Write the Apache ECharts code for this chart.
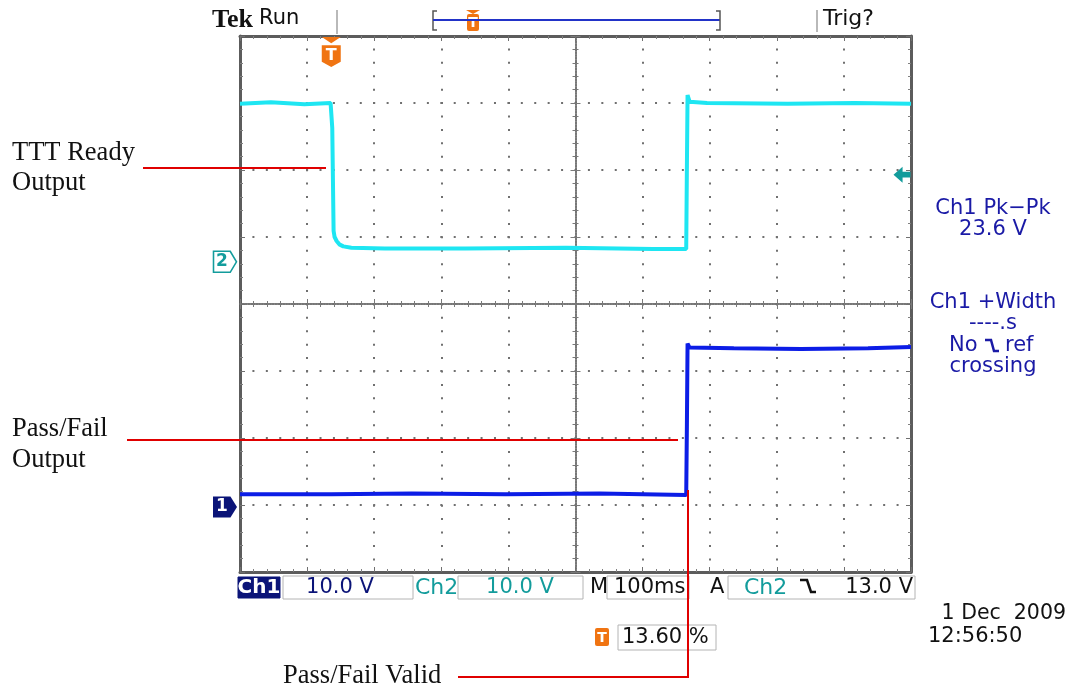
<!DOCTYPE html>
<html>
<head>
<meta charset="utf-8">
<title>TTT Ready / Pass-Fail timing</title>
<script src="https://cdn.jsdelivr.net/npm/echarts@6/dist/echarts.min.js"></script>
<style>
  html, body { margin: 0; padding: 0; background: #ffffff; }
  #scope { width: 1070px; height: 690px; }
</style>
</head>
<body>
<div id="scope"></div>
<script>
// Time in ms relative to the trigger point (trigger sits at 13.6 % of the record, 100 ms/div)
const timeWindow = { min: -136, max: 864, perDiv: 100 };

// Ch2 - TTT Ready output (volts)
const ch2Time  = [-136, -90, -40, -1, 1.5, 3.5, 5, 8, 12, 18, 30, 80, 200, 350, 480, 529, 530, 531, 534, 560, 680, 780, 864];
const ch2Volts = [23.6, 23.8, 23.5, 23.7, 20.0, 4.6, 3.7, 3.1, 2.6, 2.3, 2.1, 2.0, 2.0, 2.1, 1.9, 1.9, 14.0, 24.9, 23.9, 23.7, 23.6, 23.7, 23.6];

// Ch1 - Pass/Fail output (volts)
const ch1Time  = [-136, 0, 120, 260, 400, 529, 530, 531, 534, 600, 700, 800, 864];
const ch1Volts = [1.9, 1.9, 2.0, 1.9, 2.0, 1.8, 12.0, 24.4, 23.8, 23.7, 23.6, 23.7, 23.9];

// Vertical scale (10 V/div, 8 divisions) and ground reference of each channel
const voltsPerDiv = 10;
const ch2Range = { min: -46.3, max: 33.7 };
const ch1Range = { min: -9.7, max: 70.3 };
const triggerLevel = 13.0;

// Readouts
const statusCh1 = '10.0 V';
const statusCh2 = '10.0 V';
const statusTime = '100ms';
const statusTrig = '13.0 V';
const triggerPos = '13.60 %';
const measureLines = ['Ch1 Pk\u2212Pk', '23.6 V', 'Ch1 +Width', '----.s', 'crossing'];
const dateLines = ['1 Dec  2009', '12:56:50'];

const CYAN = '#1ee6f2';
const BLUE = '#0c1de6';
const TEAL = '#139c9c';
const NAVY = '#0b1478';
const MEAS = '#1a1aa6';
const ORANGE = '#f07412';
const RED = '#e00000';
const MONO = '21px "DejaVu Sans"';
const SERIF = '26.5px "Liberation Serif"';

const zip = (t, v) => t.map((x, i) => [x, v[i]]);

const dotted = { color: '#707070', width: 2, type: [2, 11.42], dashOffset: 1 };
const frame = { color: '#5c5c5c', width: 3 };

const frameAxis = (extra) => Object.assign({
  type: 'value',
  axisLine: { show: true, onZero: false, lineStyle: frame },
  axisTick: { show: true, inside: true, length: 5, lineStyle: { color: '#707070', width: 1 } },
  minorTick: { show: true, splitNumber: 5, length: 3, lineStyle: { color: '#808080', width: 1 } },
  axisLabel: { show: false },
  splitLine: { show: false }
}, extra);

const tickStyle = { color: '#7a7a7a', width: 1 };
const crossAxis = (inside, extra) => Object.assign({
  type: 'value',
  interval: 1,
  axisLine: { show: true, onZero: true, onZeroAxisIndex: 2, lineStyle: { color: '#6e6e6e', width: 1.5, type: [1.5, 1.2] } },
  axisTick: { show: true, inside, length: 5, lineStyle: tickStyle },
  minorTick: { show: true, splitNumber: 5, length: 3, lineStyle: tickStyle },
  axisLabel: { show: false },
  splitLine: { show: false }
}, extra);

const txt = (text, x, y, font, fill, align) => ({
  type: 'text', x, y, z: 20,
  style: { text, font, fill, align: align || 'left', verticalAlign: 'middle' }
});
const box = (x, y, w, h, fill, stroke) => ({
  type: 'rect', z: 15, shape: { x, y, width: w, height: h },
  style: { fill: fill || '#fff', stroke: stroke || '#b4b4b4', lineWidth: 1 }
});
const line = (pts, color, w) => ({
  type: 'polyline', z: 30, shape: { points: pts },
  style: { stroke: color, lineWidth: w, fill: null }
});
const tMark = (x, y, w, h) => ({
  type: 'group', x, y, z: 25,
  children: [
    { type: 'rect', shape: { x: 0, y: 0, width: w, height: h, r: 2 }, style: { fill: ORANGE } },
    { type: 'text', style: { text: 'T', x: w / 2, y: h / 2 + 1, font: 'bold ' + Math.round(h * 0.8) + 'px "DejaVu Sans"', fill: '#fff', align: 'center', verticalAlign: 'middle' } }
  ]
});

const chart = echarts.init(document.getElementById('scope'), null, { renderer: 'canvas' });

chart.setOption({
  animation: false,
  backgroundColor: '#ffffff',
  grid: { left: 240, top: 36, width: 671, height: 536, show: false },
  xAxis: [
    frameAxis({ min: timeWindow.min, max: timeWindow.max, interval: timeWindow.perDiv, position: 'bottom',
      splitLine: { show: true, lineStyle: dotted } }),
    frameAxis({ min: timeWindow.min, max: timeWindow.max, interval: timeWindow.perDiv, position: 'top' }),
    crossAxis(true, { min: -5, max: 5, position: 'bottom' }),
    crossAxis(false, { min: -5, max: 5, position: 'bottom' })
  ],
  yAxis: [
    frameAxis({ min: ch2Range.min, max: ch2Range.max, interval: voltsPerDiv, position: 'left',
      splitLine: { show: true, lineStyle: dotted } }),
    frameAxis({ min: ch1Range.min, max: ch1Range.max, interval: voltsPerDiv, position: 'right' }),
    crossAxis(true, { min: -4, max: 4, position: 'left' }),
    crossAxis(false, { min: -4, max: 4, position: 'left' })
  ],
  series: [
    {
      name: 'Ch2', type: 'line', xAxisIndex: 0, yAxisIndex: 0,
      data: zip(ch2Time, ch2Volts), showSymbol: false, z: 5,
      lineStyle: { color: CYAN, width: 4 },
      markPoint: {
        silent: true,
        data: [
          { // ground reference of Ch2
            coord: [timeWindow.min, 0],
            symbol: 'path://M0,0 L16,0 L22,10 L16,20 L0,20 Z', symbolSize: [23, 21], symbolOffset: [-15, 0],
            itemStyle: { color: '#ffffff', borderColor: TEAL, borderWidth: 1.5 },
            label: { show: true, formatter: '2', position: 'inside', offset: [-3, 0], color: TEAL, fontWeight: 'bold', fontSize: 17, fontFamily: 'DejaVu Sans' }
          },
          { // trigger level arrow
            coord: [timeWindow.max, triggerLevel],
            symbol: 'path://M0,7 L8,0 L8,4.5 L15,4.5 L15,9.5 L8,9.5 L8,14 Z', symbolSize: [17, 16], symbolOffset: [-9, 0],
            itemStyle: { color: TEAL }, label: { show: false }
          },
          { // trigger position marker
            coord: [0, ch2Range.max],
            symbol: 'path://M1,0 L17,0 L9,6 Z M1,8 L17,8 L17,24 L9,29 L1,24 Z', symbolSize: [19, 30], symbolOffset: [0, 16],
            itemStyle: { color: ORANGE },
            label: { show: true, formatter: 'T', position: 'inside', offset: [0, 4], color: '#fff', fontWeight: 'bold', fontSize: 16, fontFamily: 'DejaVu Sans' }
          }
        ]
      }
    },
    {
      name: 'Ch1', type: 'line', xAxisIndex: 0, yAxisIndex: 1,
      data: zip(ch1Time, ch1Volts), showSymbol: false, z: 6,
      lineStyle: { color: BLUE, width: 4 },
      markPoint: {
        silent: true,
        data: [
          { // ground reference of Ch1
            coord: [timeWindow.min, 0],
            symbol: 'path://M0,0 L16,0 L22,10 L16,20 L0,20 Z', symbolSize: [24, 21], symbolOffset: [-15, 0],
            itemStyle: { color: NAVY },
            label: { show: true, formatter: '1', position: 'inside', offset: [-3, 0], color: '#fff', fontWeight: 'bold', fontSize: 17, fontFamily: 'DejaVu Sans' }
          }
        ]
      }
    }
  ],
  graphic: [
    // header
    txt('Tek', 212, 20, 'bold 26px "Liberation Serif"', '#111'),
    txt('Run', 259, 19, MONO, '#111'),
    line([[337, 10], [337, 34]], '#8a8a8a', 1.2),
    line([[437, 11], [433, 11], [433, 30], [437, 30]], '#555', 1.5),
    line([[433, 20], [720, 20]], '#2233c8', 2),
    line([[716, 11], [720, 11], [720, 30], [716, 30]], '#555', 1.5),
    { type: 'polygon', z: 25, shape: { points: [[466, 10], [480, 10], [473, 14]] }, style: { fill: ORANGE } },
    tMark(467, 14, 12, 17),
    line([[817, 10], [817, 32]], '#8a8a8a', 1.2),
    txt('Trig?', 823, 19, '22px "DejaVu Sans"', '#111'),

    // status bar
    box(238, 577, 42, 21, NAVY, NAVY),
    txt('Ch1', 259, 588, 'bold 20px "DejaVu Sans"', '#fff', 'center'),
    box(283, 576, 130, 23),
    txt(statusCh1, 340, 588, MONO, NAVY, 'center'),
    txt('Ch2', 415, 588, '22px "DejaVu Sans"', TEAL),
    box(458, 576, 125, 23),
    txt(statusCh2, 520, 588, MONO, TEAL, 'center'),
    txt('M', 590, 588, MONO, '#111'),
    box(607, 576, 82, 23),
    txt(statusTime, 614, 588, MONO, '#111'),
    txt('A', 710, 588, MONO, '#111'),
    box(728, 576, 187, 23),
    txt('Ch2', 744, 588, '22px "DejaVu Sans"', TEAL),
    line([[800, 580], [807, 580], [811, 592], [816, 592]], '#111', 2.5),
    txt(statusTrig, 913, 588, MONO, '#111', 'right'),

    // trigger position readout
    tMark(595, 628, 14, 18),
    box(618, 625, 98, 25),
    txt(triggerPos, 622, 638, MONO, '#111'),

    // date and time
    txt(dateLines[0], 1066, 614, '20.5px "DejaVu Sans"', '#111', 'right'),
    txt(dateLines[1], 928, 637, MONO, '#111'),

    // measurement readouts
    txt(measureLines[0], 993, 209, MONO, MEAS, 'center'),
    txt(measureLines[1], 993, 230, MONO, MEAS, 'center'),
    txt(measureLines[2], 993, 303, MONO, MEAS, 'center'),
    txt(measureLines[3], 993, 324, MONO, MEAS, 'center'),
    txt('No', 949, 346, MONO, MEAS),
    line([[985, 340], [991, 340], [994, 351], [999, 351]], MEAS, 2.5),
    txt('ref', 1005, 346, MONO, MEAS),
    txt(measureLines[4], 993, 367, MONO, MEAS, 'center'),

    // callouts
    txt('TTT Ready', 12, 153, SERIF, '#111'),
    txt('Output', 12, 183, SERIF, '#111'),
    line([[143, 168], [326, 168]], RED, 2),
    txt('Pass/Fail', 12, 429, SERIF, '#111'),
    txt('Output', 12, 460, SERIF, '#111'),
    line([[127, 440], [678, 440]], RED, 2),
    txt('Pass/Fail Valid', 283, 676, SERIF, '#111'),
    line([[458, 677], [688, 677], [688, 490]], RED, 2)
  ]
});
</script>
</body>
</html>
